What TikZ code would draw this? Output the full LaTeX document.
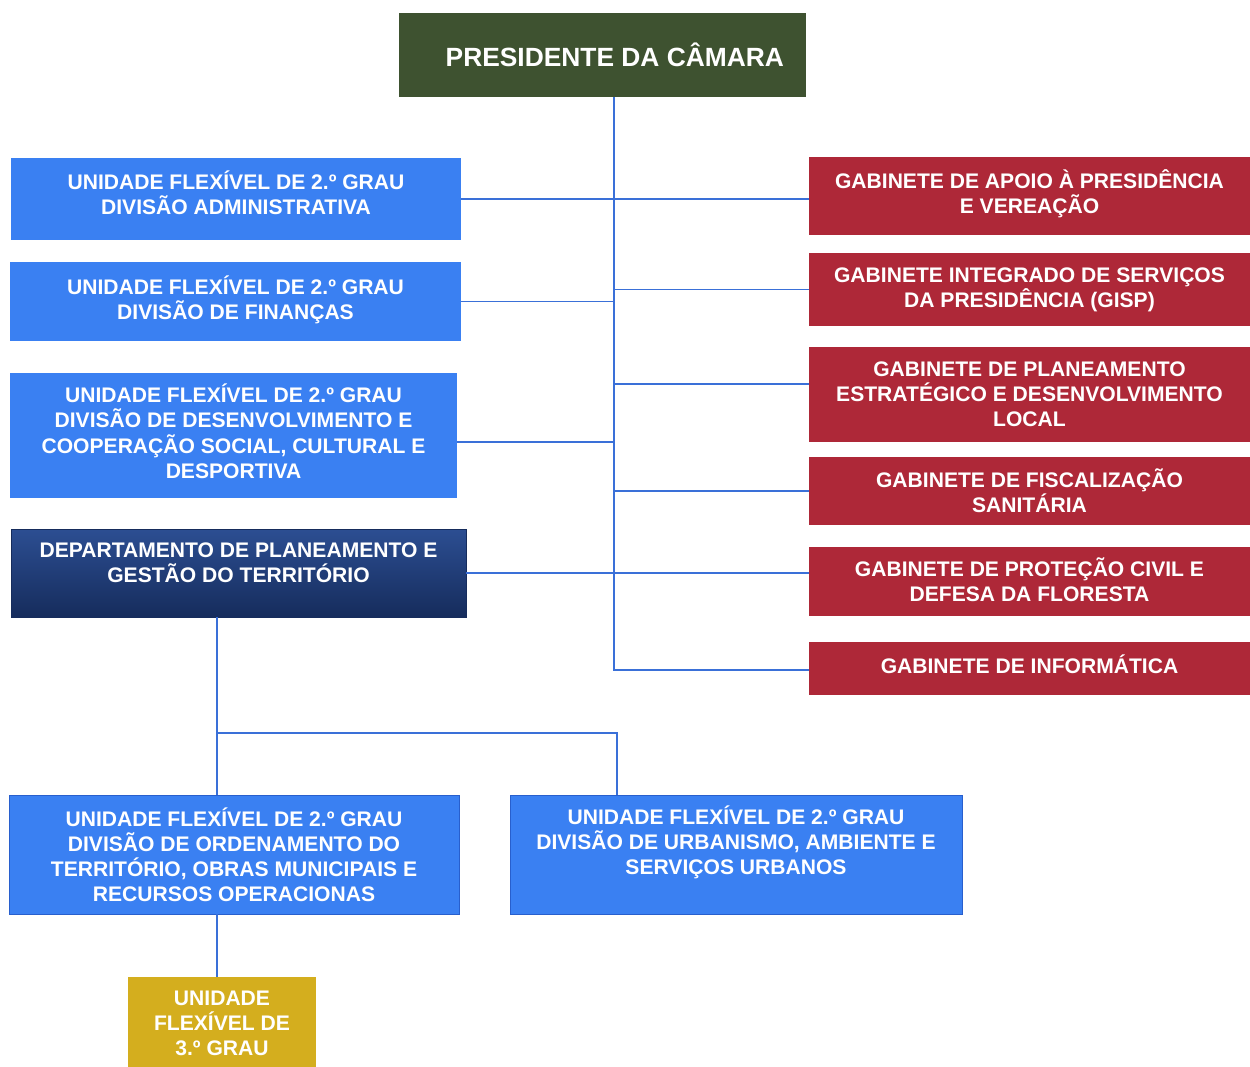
\documentclass[tikz,border=0pt]{standalone}
\usepackage{fontspec}
\setmainfont{Liberation Sans}
\usepackage{xcolor}
\usepackage{tikz}
\usetikzlibrary{calc}

\definecolor{presgreen}{RGB}{62,82,48}
\definecolor{unitblue}{RGB}{58,128,242}
\definecolor{unitedge}{RGB}{40,95,205}
\definecolor{cabred}{RGB}{174,40,56}
\definecolor{depttop}{RGB}{44,78,146}
\definecolor{deptbot}{RGB}{22,44,92}
\definecolor{unityellow}{RGB}{212,174,30}
\definecolor{linkblue}{RGB}{58,112,216}

\begin{document}
\begin{tikzpicture}[
  x=0.02cm,y=-0.02cm,
  box/.style={inner sep=0pt, align=center, text=white, font=\fontsize{12pt}{14.3pt}\selectfont\bfseries},
  size/.style 2 args={minimum width=#1*0.02cm, minimum height=#2*0.02cm},
  lift/.style={text depth=#1},
  unit/.style={box, fill=unitblue},
  cab/.style={box, fill=cabred},
  dept/.style={box, top color=depttop, bottom color=deptbot, draw=deptbot},
  label/.style={box, align=center},
  link/.style={draw=linkblue, line width=1pt}
]
\useasboundingbox (0,0) rectangle (1250,1067);
% top
\node[box, fill=presgreen, size={407}{84}, font=\fontsize{15pt}{18pt}\selectfont\bfseries] (pres) at (602.5,55) {\hspace*{14pt}PRESIDENTE DA CÂMARA};
% left column
\node[unit, lift=7pt, size={450}{82}] (adm) at (236,199) {UNIDADE FLEXÍVEL DE 2.º GRAU\\DIVISÃO ADMINISTRATIVA};
\node[unit, lift=4pt, size={451}{79}] (fin) at (235.5,301.5) {UNIDADE FLEXÍVEL DE 2.º GRAU\\DIVISÃO DE FINANÇAS};
\node[unit, lift=5pt, size={447}{125}] (desp) at (233.5,435.5) {UNIDADE FLEXÍVEL DE 2.º GRAU\\DIVISÃO DE DESENVOLVIMENTO E\\COOPERAÇÃO SOCIAL, CULTURAL E\\DESPORTIVA};
\node[dept, size={455}{88}] (dept) at (238.5,573) {};
\node[label] (dept-t) at (238.5,563) {DEPARTAMENTO DE PLANEAMENTO E\\GESTÃO DO TERRITÓRIO};
% right column
\node[cab, lift=5pt, size={441}{78}] (apoio) at (1029.5,196) {GABINETE DE APOIO À PRESIDÊNCIA\\E VEREAÇÃO};
\node[cab, size={441}{73}] (gisp) at (1029.5,289.5) {GABINETE INTEGRADO DE SERVIÇOS\\DA PRESIDÊNCIA (GISP)};
\node[cab, size={441}{95}] (plan) at (1029.5,394.5) {GABINETE DE PLANEAMENTO\\ESTRATÉGICO E DESENVOLVIMENTO\\LOCAL};
\node[cab, size={441}{68}] (fisc) at (1029.5,491) {GABINETE DE FISCALIZAÇÃO\\SANITÁRIA};
\node[cab, lift=2pt, size={441}{69}] (prot) at (1029.5,581.5) {GABINETE DE PROTEÇÃO CIVIL E\\DEFESA DA FLORESTA};
\node[cab, lift=5pt, size={441}{53}] (inf) at (1029.5,668.5) {GABINETE DE INFORMÁTICA};
% bottom
\node[unit, draw=unitedge, size={450}{119}] (ord) at (234,854.5) {UNIDADE FLEXÍVEL DE 2.º GRAU\\DIVISÃO DE ORDENAMENTO DO\\TERRITÓRIO, OBRAS MUNICIPAIS E\\RECURSOS OPERACIONAS};
\node[unit, draw=unitedge, size={452}{119}] (urb) at (736,854.5) {};
\node[label] (urb-t) at (736,842) {UNIDADE FLEXÍVEL DE 2.º GRAU\\DIVISÃO DE URBANISMO, AMBIENTE E\\SERVIÇOS URBANOS};
\node[box, fill=unityellow, size={188}{92}] (ter) at (222,1023) {UNIDADE\\FLEXÍVEL DE\\3.º GRAU};

% connectors
\coordinate (spine) at (614,670);
\coordinate (j-plan) at (614,384);
\coordinate (j-desp) at (614,442);
\coordinate (split) at (217,733);
\coordinate (split-r) at (617,733);
\draw[link] (pres.south -| spine) -- (spine) -- (spine -| inf.west);
\draw[link] (adm.east) -- (adm.east -| apoio.west);
\draw[link] (fin.east) -- (fin.east -| spine);
\draw[link] (spine |- gisp.west) -- (gisp.west);
\draw[link] (j-plan) -- (j-plan -| plan.west);
\draw[link] (desp.east |- j-desp) -- (j-desp);
\draw[link] (spine |- fisc.west) -- (fisc.west);
\draw[link] (dept.east) -- (dept.east -| prot.west);
\draw[link] (split |- dept.south) -- (split |- ord.north);
\draw[link] (split) -- (split-r) -- (split-r |- urb.north);
\draw[link] (split |- ord.south) -- (split |- ter.north);
\end{tikzpicture}
\end{document}
